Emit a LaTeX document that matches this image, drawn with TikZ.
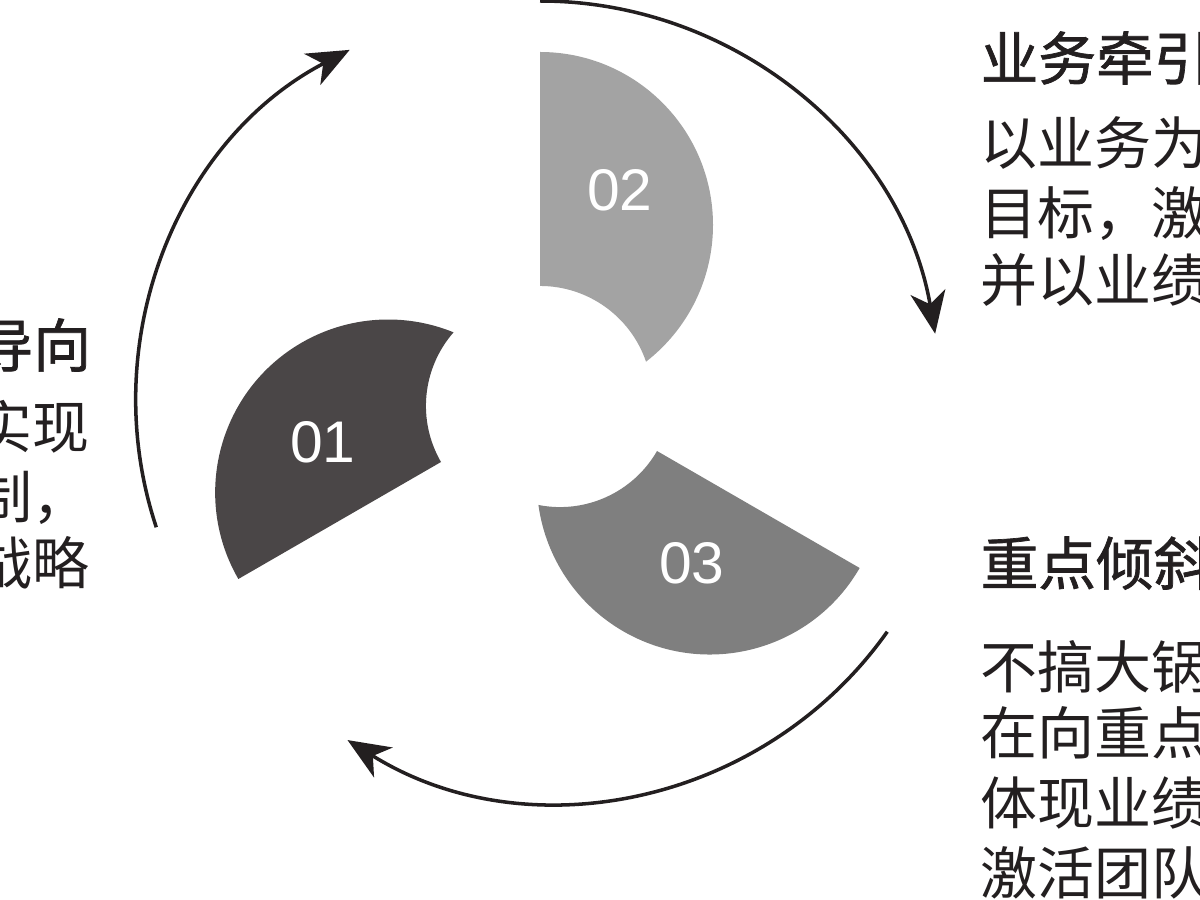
\documentclass[tikz,border=0pt]{standalone}
\usepackage{fontspec}
\usepackage{xcolor}
\usepackage{tikz}
\usetikzlibrary{arrows.meta}

\newfontfamily\cjk{Noto Sans CJK SC}
\newfontfamily\cjkhead[FakeBold=1.2]{Noto Sans CJK SC}
\newfontfamily\numfont{Liberation Sans}

\definecolor{ink}{RGB}{35,31,32}
\definecolor{blade01}{RGB}{74,70,71}
\definecolor{blade02}{RGB}{163,163,163}
\definecolor{blade03}{RGB}{127,127,127}

\tikzset{
	flow/.style = {draw = ink, line width = 1pt, -{Stealth[length = 12pt, width = 10pt, inset = 3.5pt]}},
	num/.style = {text = white, inner sep = 0pt, font = \numfont\fontsize{16.7}{20}\selectfont},
	blurb/.style = {text = ink, anchor = base west, inner sep = 0pt, font = \cjk\fontsize{16.2}{19}\selectfont},
	headline/.style = {blurb, font = \cjkhead\fontsize{16.4}{19}\selectfont},
}

\begin{document}
\begin{tikzpicture}[x = 0.01cm, y = 0.01cm]
		\def\hole{112};
		\def\petal{173};

		\useasboundingbox (0,0) rectangle (1200,900);
		\clip (0,0) rectangle (1200,900);

		\coordinate (hub) at (540,502);

		% three blades round the hub
		\foreach \rot/\shade/\dx/\dy in {0/blade02/0/0, 120/blade01/-2/-8, 240/blade03/20/3}
			\fill [\shade, shift = {({540 + \dx},{502 + \dy})}, rotate = \rot] (0,\hole) -- (0,{2*\petal})
				arc [start angle = 90, end angle = -52.2, radius = \petal]
				arc [start angle = 18.9, end angle = 90, radius = \hole] -- cycle;

		\node [num] (n02) at (620,710) {02};
		\node [num] (n01) at (323,458) {01};
		\node [num] (n03) at (692,337) {03};

		% arrows round the outside
		\coordinate (top start) at ({540 + 401*cos(90)},{498 + 401*sin(90)});
		\coordinate (low start) at ({560 + 401*cos(-35.3)},{500 + 401*sin(-35.3)});
		\coordinate (left start) at ({533 + 397*cos(198.4)},{498 + 397*sin(198.4)});

		\draw [flow] (top start) arc [start angle = 90, end angle = 9.8, radius = 401];
		\draw [flow] (low start) arc [start angle = -35.3, end angle = -122, radius = 401];
		\draw [flow] (left start) arc [start angle = 198.4, end angle = 117.5, radius = 397];

		% texts
		\node [headline] (head up) at (980,820) {业务牵引};
		\foreach \y/\t [count = \i] in {735/以业务为, 665/目标，激, 598/并以业绩}
			\node [blurb] (up\i) at (980,\y) {\t};

		\node [headline] (head low) at (980,315) {重点倾斜};
		\foreach \y/\t [count = \i] in {211/不搞大锅, 145/在向重点, 75/体现业绩, 5/激活团队}
			\node [blurb] (low\i) at (980,\y) {\t};

		\node [headline] (head left) at (-25,533) {导向};
		\foreach \y/\t [count = \i] in {451/实现, 381/制，, 315/战略}
			\node [blurb] (left\i) at (-25,\y) {\t};
	\end{tikzpicture}
\end{document}
